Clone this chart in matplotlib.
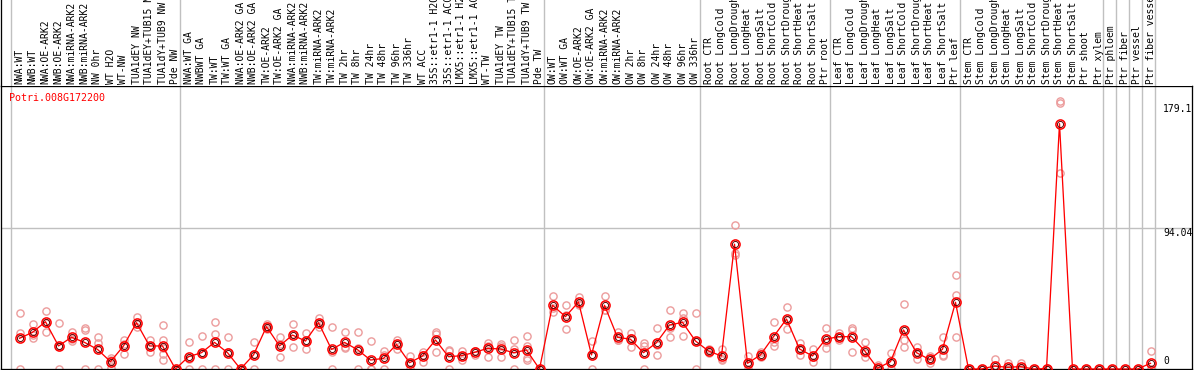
import numpy as np
import matplotlib
matplotlib.use('Agg')
import matplotlib.pyplot as plt

############################################################################
#                         Data                          #
############################################################################
gene = 'Potri.008G172200'

labels = ['NWA:WT', 'NWB:WT', 'NWA:OE-ARK2', 'NWB:OE-ARK2', 'NWA:miRNA-ARK2',
          'NWB:miRNA-ARK2', 'NW 0hr', 'WT H2O', 'WT-NW', 'TUA1dEY NW',
          'TUA1dEY+TUB15 NW', 'TUA1dY+TUB9 NW', 'Pde NW',
          'NWA:WT GA', 'NWBWT GA', 'TW:WT', 'TW:WT GA', 'NWA:OE-ARK2 GA',
          'NWB:OE-ARK2 GA', 'TW:OE-ARK2', 'TW:OE-ARK2 GA', 'NWA:miRNA-ARK2 GA',
          'NWB:miRNA-ARK2 GA', 'TW:miRNA-ARK2', 'TW:miRNA-ARK2', 'TW 2hr',
          'TW 8hr', 'TW 24hr', 'TW 48hr', 'TW 96hr', 'TW 336hr', 'WT ACC',
          '35S::etr1-1 H2O', '35S::etr1-1 ACC', 'LMX5::etr1-1 H2O',
          'LMX5::etr1-1 ACC', 'WT-TW', 'TUA1dEY TW', 'TUA1dEY+TUB15 TW',
          'TUA1dY+TUB9 TW', 'Pde TW',
          'OW:WT', 'OW:WT GA', 'OW:OE-ARK2', 'OW:OE-ARK2 GA', 'OW:miRNA-ARK2',
          'OW:miRNA-ARK2', 'OW 2hr', 'OW 8hr', 'OW 24hr', 'OW 48hr', 'OW 96hr',
          'OW 336hr',
          'Root CTR', 'Root LongCold', 'Root LongDrought', 'Root LongHeat',
          'Root LongSalt', 'Root ShortCold', 'Root ShortDrought',
          'Root ShortHeat', 'Root ShortSalt', 'Ptr root',
          'Leaf CTR', 'Leaf LongCold', 'Leaf LongDrought', 'Leaf LongHeat',
          'Leaf LongSalt', 'Leaf ShortCold', 'Leaf ShortDrought',
          'Leaf ShortHeat', 'Leaf ShortSalt', 'Ptr leaf',
          'Stem CTR', 'Stem LongCold', 'Stem LongDrought', 'Stem LongHeat',
          'Stem LongSalt', 'Stem ShortCold', 'Stem ShortDrought',
          'Stem ShortHeat', 'Stem ShortSalt', 'Ptr shoot', 'Ptr xylem',
          'Ptr phloem', 'Ptr fiber', 'Ptr vessel', 'Ptr fiber vessel']

means = [20.5, 24.5, 31.6, 15.4, 21.2, 17.8, 13.1, 4.9, 15.4, 31.0,
         15.4, 15.4, 0.0,
         8.2, 10.9, 17.8, 10.9, 0.0, 9.4, 28.3, 15.4, 22.7, 18.7,
         31.0, 13.1, 17.8, 12.9, 6.0, 7.1, 16.5, 4.2, 8.7, 19.4,
         8.2, 8.9, 11.1, 13.8, 13.4, 10.9, 12.7, 0.0,
         42.6, 35.0, 44.8, 9.4, 42.6, 21.2, 19.9, 10.9, 17.6, 29.4, 31.2, 18.7,
         12.0, 8.7, 83.4, 3.8, 9.4, 21.6, 33.4, 13.4, 8.7, 19.9,
         21.6, 21.6, 12.3, 0.5, 4.9, 26.1, 10.9, 6.4, 13.2, 44.6,
         0.0, 0.0, 2.0, 1.1, 1.6, 0.0, 0.3, 164.0, 0.0, 0.0, 0.0,
         0.0, 0.0, 0.0, 3.8]

reps = [[37.2, 23.9, 0], [29.9, 22.5, 20.5], [39, 31, 25], [30.5, 15.5, 0],
        [25, 20, 18.9], [27.2, 26, 0], [21.6, 17.5, 0], [7.6, 6, 1],
        [19.4, 17, 10], [35, 30, 28.3], [19.4, 15.4, 11.5],
        [29.4, 19.4, 14.3, 10, 6], [0, 0, 0],
        [17.8, 6.8, 0], [22, 10.7, 0], [31.6, 23.4, 0], [21.2, 11.5, 0],
        [0, 0, 0], [18.3, 10, 0], [29.9, 28.3, 26.7], [21.6, 16.5, 8],
        [29.9, 23.3, 14.9], [24, 18.7, 13.4], [34, 30.7, 28.3],
        [27.9, 11.4, 0], [24.5, 14.6, 14.3], [24.5, 14.2, 0], [18.5, 0, 0],
        [12, 9.3, 0], [19.4, 16.5, 13.6], [8.7, 4, 0], [11.6, 9.6, 4.9],
        [25, 23.6, 11.6], [12.7, 11.9, 0], [12, 8.5, 6.2], [12, 12, 9.4],
        [17.6, 15.6, 8.2], [16.9, 15.1, 8.2], [19.4, 13.3, 0],
        [22, 15.1, 7.6, 6], [0, 0, 0],
        [49, 40.5, 38.3], [42.6, 35.9, 26.5], [48.3, 43.5, 42.6],
        [18.7, 9.5, 0], [49, 39.4, 39.4], [25, 19.4, 19.2], [24, 20.8, 14.9],
        [17.6, 15.1, 0], [27.2, 16.2, 9.4], [39.4, 27.2, 21.6],
        [37.2, 34.4, 22], [37.4, 18.7, 0],
        [13.2, 12, 10.8], [13.2, 6.9, 6], [96.3, 77.7, 76.2], [8.9, 2.5, 0],
        [11.4, 9, 7.8], [31.6, 17.8, 15.4], [41.2, 32.5, 26.5],
        [17.2, 13.6, 9.4], [13.2, 8, 4.9], [27.2, 18.2, 14.3],
        [24, 21.4, 19.4], [27.2, 26, 11.6], [18.3, 10.5, 8], [2.7, 0, 0],
        [10.5, 4.2, 0], [43.2, 19.4, 14.7], [14.7, 11.6, 6.4],
        [8.7, 6.7, 3.8], [21.2, 9.4, 9], [62.8, 49.5, 21.2],
        [0, 0, 0], [0, 0, 0], [6.4, 0, 0], [4.2, 0, 0], [3.8, 1, 0],
        [0, 0, 0], [1, 0, 0], [179.1, 177.5, 131], [0, 0, 0], [0, 0, 0],
        [0, 0, 0], [0, 0, 0], [0, 0, 0], [0, 0, 0], [12, 0, 0]]

# column indices where a new sample group starts
group_breaks = [0, 13, 41, 53, 63, 73, 84, 85, 86, 87, 88]

tick_values = [0, 94.04, 179.1]
tick_texts = ['0', '94.04', '179.1']
tick_offsets = [5, -7.7, -11]   # pixel offsets of the label baselines
############################################################################

W, H = 1194, 370
red = '#ff0000'
pink = '#ec9c9c'
grey = '#c0c0c0'
px = 0.72   # one pixel in points

plt.rcParams['font.family'] = ['DejaVu Sans Mono']

fig = plt.figure(figsize=(W / 100, H / 100), dpi=100)
x = np.arange(len(labels))
xlim = ((1 - 19.5) / 13, (1192 - 19.5) / 13)
seps = [k - 8.5 / 13 for k in group_breaks]

# ---- main plot panel ----
ax = fig.add_axes((1 / W, 1 / H, (1192 - 1) / W, (369 - 86) / H))
ax.set_xlim(xlim)
ax.set_ylim(0, (369 - 86) / 1.4962)
ax.set_xticks([])
ax.set_yticks([])
for s in ax.spines.values():
    s.set_color('black')
    s.set_linewidth(px * 1.3)

for s in seps:
    ax.axvline(s, color=grey, lw=px * 1.4, zorder=1)
ax.axhline(tick_values[1], color=grey, lw=px * 1.4, zorder=1)

for i, r in enumerate(reps):
    ax.plot([i] * len(r), r, 'o', ms=5.2, mfc='none', mec=pink, mew=1.0,
            zorder=2, clip_on=False)
ax.plot(x, means, '-', color=red, lw=px * 1.3, zorder=3, clip_on=False)
ax.plot(x, means, 'o', ms=6.6, mfc='none', mec=red, mew=1.1, zorder=4,
        clip_on=False)
ax.plot(x, means, 'o', ms=4.4, mfc='none', mec='#600000', mew=0.7, zorder=5,
        clip_on=False)

tx = (1163 - 19.5) / 13
for v, t, off in zip(tick_values, tick_texts, tick_offsets):
    ax.annotate(t, xy=(tx, v), xytext=(0, off), textcoords='offset pixels',
                ha='left', va='baseline', fontsize=7.0, color='black')

ax.text(8 / 1191, (369 - 101) / 283, gene, transform=ax.transAxes,
        ha='left', va='baseline', fontsize=7.2, color=red)

# ---- header with sample names ----
hd = fig.add_axes((1 / W, (H - 86) / H, (1192 - 1) / W, 86 / H))
hd.set_xlim(xlim)
hd.set_ylim(0, 86)
hd.set_xticks([])
hd.set_yticks([])
for k, s in hd.spines.items():
    s.set_visible(k == 'left')
hd.spines['left'].set_linewidth(px * 1.3)
for s in seps:
    hd.axvline(s, color=grey, lw=px * 1.4)
for i, lab in enumerate(labels):
    hd.text(i, 2.5, lab, rotation=90, ha='center', va='bottom',
            fontsize=7.0, color='black', clip_on=False)

fig.savefig('out.png', dpi=100)
